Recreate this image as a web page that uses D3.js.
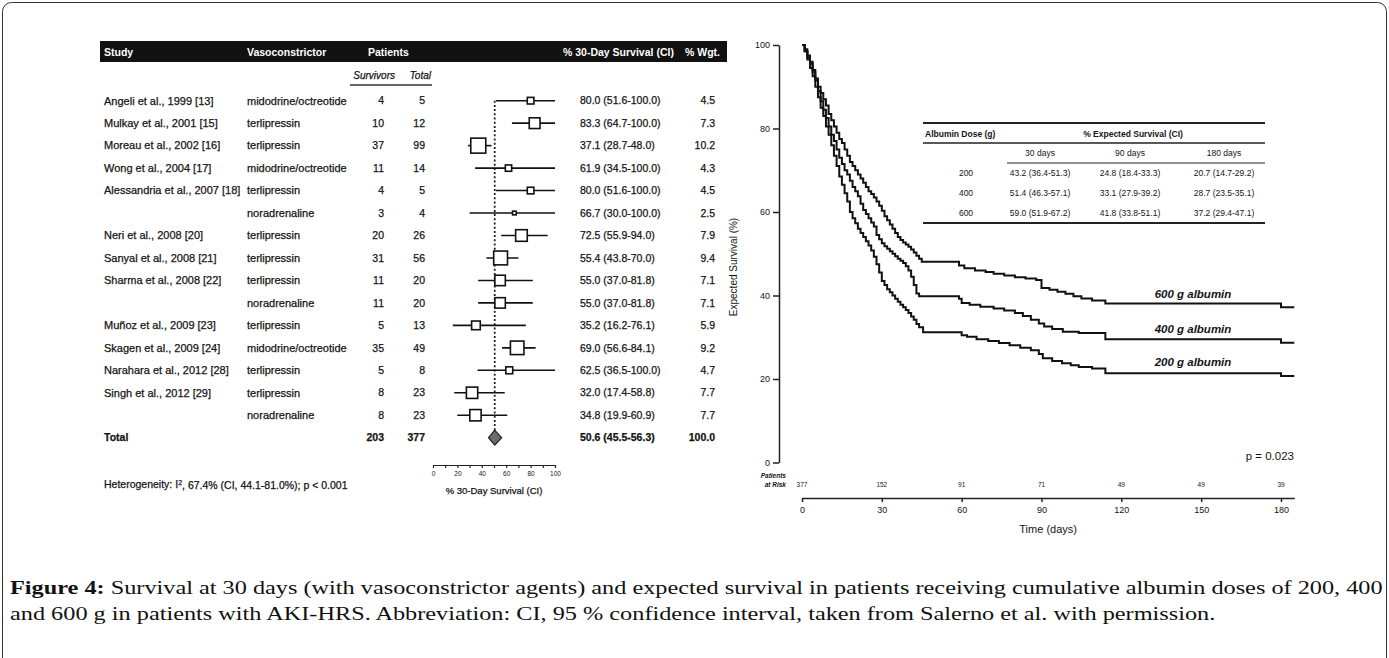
<!DOCTYPE html>
<html><head><meta charset="utf-8">
<script src="https://cdn.jsdelivr.net/npm/d3@7"></script>
<style>
body{margin:0;background:#fff;}
svg{display:block;}
text{font-family:"Liberation Sans",Arial,Helvetica,sans-serif;fill:#141414;}
.heavy{stroke:#141414;stroke-width:0.25px;}
</style>
</head><body>
<svg id="chart" width="1389" height="658"></svg>
<script>
// ---------------- Forest plot data ----------------
const studies = ["Angeli et al., 1999 [13]","Mulkay et al., 2001 [15]","Moreau et al., 2002 [16]","Wong et al., 2004 [17]","Alessandria et al., 2007 [18]","","Neri et al., 2008 [20]","Sanyal et al., 2008 [21]","Sharma et al., 2008 [22]","","Muñoz et al., 2009 [23]","Skagen et al., 2009 [24]","Narahara et al., 2012 [28]","Singh et al., 2012 [29]",""];
const vasoconstrictors = ["midodrine/octreotide","terlipressin","terlipressin","midodrine/octreotide","terlipressin","noradrenaline","terlipressin","terlipressin","terlipressin","noradrenaline","terlipressin","midodrine/octreotide","terlipressin","terlipressin","noradrenaline"];
const survivors = [4,10,37,11,4,3,20,31,11,11,5,35,5,8,8];
const totals = [5,12,99,14,5,4,26,56,20,20,13,49,8,23,23];
const estimate = [80.0,83.3,37.1,61.9,80.0,66.7,72.5,55.4,55.0,55.0,35.2,69.0,62.5,32.0,34.8];
const ciLow = [51.6,64.7,28.7,34.5,51.6,30.0,55.9,43.8,37.0,37.0,16.2,56.6,36.5,17.4,19.9];
const ciHigh = [100.0,100.0,48.0,100.0,100.0,100.0,94.0,70.0,81.8,81.8,76.1,84.1,100.0,58.8,60.9];
const weights = [4.5,7.3,10.2,4.3,4.5,2.5,7.9,9.4,7.1,7.1,5.9,9.2,4.7,7.7,7.7];
const pooled = {survivors:203,total:377,est:50.6,lo:45.5,hi:56.3,wgt:100.0};
const forestTicks = [0,10,20,30,40,50,60,70,80,90,100];

// ---------------- Survival curve data (day, % survival) ----------------
const km600 = [[0,100],[1,99],[2,97.5],[3,96],[4,94],[5,92],[6,90],[7,88.5],[8,87],[9,85.5],[10,83.5],[11,82],[12,80.5],[13,79],[14,77.5],[15,76.5],[16,75],[17,73.5],[18,72],[19,71],[20,70],[21,69],[22,68],[23,67],[24,66],[25,65],[26,64.3],[27,63.5],[28,62.5],[29,61.5],[30,60.3],[31,59],[32,58],[33,57],[34,56],[35,55],[36,54],[37,53.3],[38,52.7],[39,52.2],[40,51.7],[41,51],[42,50.3],[43,49.5],[44,48.8],[45,48.1],[59,47.2],[61,46.5],[65,46],[69,45.6],[72,45.2],[76,44.8],[80,44.4],[84,44.1],[88,43.7],[90,41.8],[93,41.4],[96,40.9],[99,40.4],[102,39.8],[105,39.3],[109,38.8],[114,38.1],[180,37.2],[185,37.2]];
const km400 = [[0,100],[1,98.5],[2,97],[3,95.5],[4,93.5],[5,91.5],[6,89],[7,86.5],[8,84.5],[9,82.5],[10,80.5],[11,78.5],[12,77],[13,75],[14,73],[15,71.5],[16,70],[17,69],[18,67.5],[19,66],[20,65],[21,63.8],[22,62],[23,60.5],[24,59.5],[25,58.5],[26,57.5],[27,56.5],[28,54.5],[29,53.5],[30,52.5],[31,51.8],[32,51.2],[33,50.6],[34,50],[35,49.4],[36,48.8],[37,48.3],[38,47.8],[39,47],[40,46],[41,44.5],[42,42.5],[43,40.5],[44,39.8],[59,39.2],[60,38.2],[63,37.8],[67,37.3],[72,36.9],[76,36.4],[80,35.8],[83,35.1],[86,34.2],[89,33.3],[91,32.6],[94,32],[98,31.3],[104,31],[114,29.5],[180,28.7],[185,28.7]];
const km200 = [[0,100],[1,98.5],[2,96.5],[3,94.5],[4,92.5],[5,90],[6,87.5],[7,85],[8,83],[9,80.5],[10,78.5],[11,76],[12,73.5],[13,71],[14,68.5],[15,66.5],[16,64.5],[17,62.5],[18,60],[19,58.5],[20,57.3],[21,56],[22,55],[23,54],[24,53],[25,52],[26,50.8],[27,49.3],[28,47.5],[29,45.5],[30,43.5],[31,42.5],[32,41.5],[33,40.8],[34,40],[35,39.2],[36,38.5],[37,37.8],[38,37.2],[39,36.5],[40,35.8],[41,35],[42,34.2],[43,33.2],[44,32.4],[45.5,31.2],[60,30.5],[62,30.1],[65.6,29.5],[70,29.1],[74,28.6],[78,28.1],[82,27.5],[86,26.9],[89,26],[90.5,25],[94,24.3],[97.7,23.8],[101,23.3],[104,22.9],[109,22.5],[114,21.4],[180,20.7],[185,20.7]];
const curveLabels = ["600 g albumin","400 g albumin","200 g albumin"];
const survTicksX = [0,30,60,90,120,150,180];
const survTicksY = [0,20,40,60,80,100];
const atRisk = [377,152,91,71,49,49,39];

// inset table
const doses = ["200","400","600"];
const days30 = ["43.2 (36.4-51.3)","51.4 (46.3-57.1)","59.0 (51.9-67.2)"];
const days90 = ["24.8 (18.4-33.3)","33.1 (27.9-39.2)","41.8 (33.8-51.1)"];
const days180 = ["20.7 (14.7-29.2)","28.7 (23.5-35.1)","37.2 (29.4-47.1)"];
const tableCols = ["30 days","90 days","180 days"];

const captionBold = "Figure 4:";
const captionLine1 = " Survival at 30 days (with vasoconstrictor agents) and expected survival in patients receiving cumulative albumin doses of 200, 400";
const captionLine2 = "and 600 g in patients with AKI-HRS. Abbreviation: CI, 95 % confidence interval, taken from Salerno et al. with permission.";

// =================================================
const svg = d3.select("#chart");
svg.append("rect").attr("width",1389).attr("height",658).attr("fill","#fff");
svg.append("rect").attr("x",2.5).attr("y",2.5).attr("width",1384).attr("height",720).attr("rx",9)
  .attr("fill","none").attr("stroke","#333").attr("stroke-width",1);

// ---------- Forest plot ----------
const F = svg.append("g");
const fx = d3.scaleLinear().domain([0,100]).range([433,555]);
const fy = d3.scaleLinear().domain([0,15]).range([100.7,437.7]);

F.append("rect").attr("x",100).attr("y",41).attr("width",627).attr("height",21).attr("fill","#111");
const hdr = [["Study",104,"start"],["Vasoconstrictor",247,"start"],["Patients",368,"start"],["% 30-Day Survival (CI)",563,"start"],["% Wgt.",685,"start"]];
F.selectAll("text.hdr").data(hdr).join("text").attr("class","hdr")
  .attr("x",d=>d[1]).attr("y",52).attr("dy","0.35em").attr("text-anchor",d=>d[2])
  .style("fill","#fff").style("font-weight","bold").style("font-size","10.5px").text(d=>d[0]);
F.append("text").attr("class","heavy").attr("x",395).attr("y",75).attr("dy","0.35em").attr("text-anchor","end")
  .style("font-style","italic").style("font-size","10px").text("Survivors");
F.append("text").attr("class","heavy").attr("x",431).attr("y",75).attr("dy","0.35em").attr("text-anchor","end")
  .style("font-style","italic").style("font-size","10px").text("Total");
F.append("line").attr("x1",350).attr("x2",432).attr("y1",85).attr("y2",85).attr("stroke","#333").attr("stroke-width",1.3);

const rowTxt = (sel,x,anchor,size)=>sel.attr("class","heavy").attr("x",x).attr("text-anchor",anchor).attr("dy","0.35em").style("font-size",size);
studies.forEach((s,i)=>{
  const y = fy(i);
  rowTxt(F.append("text").attr("y",y),104,"start","11px").text(s);
  rowTxt(F.append("text").attr("y",y),247,"start","11px").text(vasoconstrictors[i]);
  rowTxt(F.append("text").attr("y",y),384,"end","10.5px").text(survivors[i]);
  rowTxt(F.append("text").attr("y",y),425,"end","10.5px").text(totals[i]);
  rowTxt(F.append("text").attr("y",y),580,"start","10.5px").text(`${estimate[i].toFixed(1)} (${ciLow[i].toFixed(1)}-${ciHigh[i].toFixed(1)})`);
  rowTxt(F.append("text").attr("y",y),715,"end","10.5px").text(weights[i].toFixed(1));
});
const ty = fy(15);
[["Total",104,"start"],[pooled.survivors,384,"end"],[pooled.total,425,"end"],
 [`${pooled.est.toFixed(1)} (${pooled.lo.toFixed(1)}-${pooled.hi.toFixed(1)})`,580,"start"],[pooled.wgt.toFixed(1),715,"end"]]
 .forEach(d=>rowTxt(F.append("text").attr("y",ty),d[1],d[2],"10.5px").style("font-weight","bold").text(d[0]));

F.append("line").attr("x1",fx(pooled.est)).attr("x2",fx(pooled.est)).attr("y1",fy(0)).attr("y2",ty-7)
  .attr("stroke","#222").attr("stroke-width",1.8).attr("stroke-dasharray","2,2.2");
F.selectAll("line.ci").data(estimate).join("line").attr("class","ci")
  .attr("x1",(d,i)=>fx(ciLow[i])).attr("x2",(d,i)=>fx(ciHigh[i]))
  .attr("y1",(d,i)=>fy(i)).attr("y2",(d,i)=>fy(i)).attr("stroke","#111").attr("stroke-width",1.6);
F.selectAll("rect.box").data(estimate).join("rect").attr("class","box")
  .attr("x",(d,i)=>fx(d)-weights[i]*1.47/2).attr("y",(d,i)=>fy(i)-weights[i]*1.47/2)
  .attr("width",(d,i)=>weights[i]*1.47).attr("height",(d,i)=>weights[i]*1.47)
  .attr("fill","#fff").attr("stroke","#111").attr("stroke-width",1.6);
F.append("path").attr("d",`M${fx(pooled.lo)},${ty} L${fx(pooled.est)},${ty-7.5} L${fx(pooled.hi)},${ty} L${fx(pooled.est)},${ty+7.5} Z`)
  .attr("fill","#6c6c6c").attr("stroke","#222").attr("stroke-width",1.2);
const fax = F.append("g").attr("transform","translate(0,465)")
  .call(d3.axisBottom(fx).tickValues(forestTicks).tickSize(3).tickSizeOuter(0).tickPadding(3)
  .tickFormat(d=>d%20===0?d:""));
fax.selectAll("path,line").attr("stroke","#222").attr("stroke-width",1.2);
fax.selectAll("text").style("font-size","6.5px").style("font-family","Liberation Sans, Arial, sans-serif").attr("fill","#333");
F.append("text").attr("class","heavy").attr("x",494).attr("y",491).attr("dy","0.35em").attr("text-anchor","middle").style("font-size","9.5px").text("% 30-Day Survival (CI)");
const het = F.append("text").attr("class","heavy").attr("x",104).attr("y",484).attr("dy","0.35em").style("font-size","10.5px");
het.append("tspan").text("Heterogeneity: I");
het.append("tspan").attr("dy","-0.4em").style("font-size","7px").text("2");
het.append("tspan").attr("dy","0.4em").text(", 67.4% (CI, 44.1-81.0%); p < 0.001");

// ---------- Survival plot ----------
const S = svg.append("g");
const sx = d3.scaleLinear().domain([0,185]).range([802,1294.3]);
const sy = d3.scaleLinear().domain([0,100]).range([462.5,45]);
const yAx = S.append("g").attr("transform","translate(779,0)")
  .call(d3.axisLeft(sy).tickValues(survTicksY).tickSize(6).tickSizeOuter(0).tickPadding(3));
yAx.selectAll("path,line").attr("stroke","#222").attr("stroke-width",1.5);
yAx.selectAll("text").style("font-size","9px").style("font-family","Liberation Sans, Arial, sans-serif").attr("fill","#222");
S.append("text").attr("transform","translate(733,267) rotate(-90)").attr("dy","0.35em").attr("text-anchor","middle")
  .style("font-size","10px").text("Expected Survival (%)");

const xAx = S.append("g").attr("transform","translate(0,498)")
  .call(d3.axisBottom(sx).tickValues(survTicksX).tickSize(4).tickSizeOuter(0).tickPadding(5));
xAx.selectAll("path,line").attr("stroke","#222").attr("stroke-width",1.5);
xAx.selectAll("text").style("font-size","9px").style("font-family","Liberation Sans, Arial, sans-serif").attr("fill","#222");
S.append("text").attr("x",sx(92.5)).attr("y",529).attr("dy","0.35em").attr("text-anchor","middle").style("font-size","11px").text("Time (days)");

S.append("text").attr("x",786).attr("y",476).attr("dy","0.35em").attr("text-anchor","end")
  .style("font-size","6.5px").style("font-weight","bold").style("font-style","italic").text("Patients");
S.append("text").attr("x",786).attr("y",485).attr("dy","0.35em").attr("text-anchor","end")
  .style("font-size","6.5px").style("font-weight","bold").style("font-style","italic").text("at Risk");
S.selectAll("text.risk").data(atRisk).join("text").attr("class","risk")
  .attr("x",(d,i)=>sx(survTicksX[i])).attr("y",485).attr("dy","0.35em").attr("text-anchor","middle")
  .style("font-size","6.5px").text(d=>d);

const line = d3.line().x(d=>sx(d[0])).y(d=>sy(d[1])).curve(d3.curveStepAfter);
[km600,km400,km200].forEach(k=>{
  S.append("path").attr("d",line(k)).attr("fill","none").attr("stroke","#111").attr("stroke-width",2);
});
const labY = [294,329,362];
curveLabels.forEach((t,i)=>S.append("text").attr("x",1193).attr("y",labY[i]).attr("dy","0.35em")
  .attr("text-anchor","middle").style("font-size","11.5px").style("font-weight","bold").style("font-style","italic").text(t));
S.append("text").attr("x",1294).attr("y",456).attr("dy","0.35em").attr("text-anchor","end").style("font-size","11.5px").text("p = 0.023");

const T = S.append("g");
const tl = (y,x1,x2,w)=>T.append("line").attr("x1",x1).attr("x2",x2).attr("y1",y).attr("y2",y).attr("stroke","#222").attr("stroke-width",w);
tl(123,923,1265,2); tl(143,923,1265,1.5); tl(163,1007,1265,1.2); tl(223,923,1265,2);
T.append("text").attr("x",925).attr("y",134).attr("dy","0.35em").style("font-size","8.5px").style("font-weight","bold").text("Albumin Dose (g)");
T.append("text").attr("x",1133).attr("y",134).attr("dy","0.35em").attr("text-anchor","middle").style("font-size","8.5px").style("font-weight","bold").text("% Expected Survival (CI)");
const colX = [1040,1130,1224];
tableCols.forEach((c,i)=>T.append("text").attr("x",colX[i]).attr("y",153).attr("dy","0.35em").attr("text-anchor","middle").style("font-size","8.5px").text(c));
const rowY = [173,193,213];
doses.forEach((d,i)=>{
  T.append("text").attr("x",966).attr("y",rowY[i]).attr("dy","0.35em").attr("text-anchor","middle").style("font-size","8.5px").text(d);
  [days30,days90,days180].forEach((arr,j)=>T.append("text").attr("x",colX[j]).attr("y",rowY[i]).attr("dy","0.35em").attr("text-anchor","middle").style("font-size","8.5px").text(arr[i]));
});

// ---------- Caption ----------
const cap = svg.append("g").attr("transform","translate(10,0)");
const c1 = cap.append("text").attr("y",594).style("font-family","Liberation Serif, Times New Roman, serif").style("font-size","18.5px").style("fill","#111");
c1.append("tspan").style("font-weight","bold").text(captionBold);
c1.append("tspan").text(captionLine1);
const c2 = cap.append("text").attr("y",620).style("font-family","Liberation Serif, Times New Roman, serif").style("font-size","18.5px").style("fill","#111").text(captionLine2);
const w1 = c1.node().getComputedTextLength();
const k = 1373 / w1;
c1.attr("transform",`scale(${k},1)`);
c2.attr("transform",`scale(${k},1)`);
</script>
</body></html>
